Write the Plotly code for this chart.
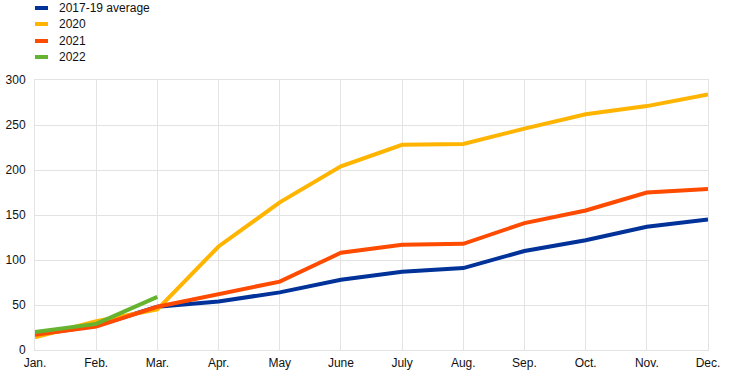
import plotly.graph_objects as go

months = ["Jan.", "Feb.", "Mar.", "Apr.", "May", "June", "July", "Aug.", "Sep.", "Oct.", "Nov.", "Dec."]
avg_2017_19 = [17, 27, 48, 54, 64, 78, 87, 91, 110, 122, 137, 145]
y2020 = [14, 32, 45, 115, 164, 204, 228, 229, 246, 262, 271, 284]
y2021 = [17, 26, 48, 62, 76, 108, 117, 118, 141, 155, 175, 179]
y2022 = [20, 29, 59]

series = [
    ("2017-19 average", avg_2017_19, "#003299"),
    ("2020", y2020, "#FFB400"),
    ("2021", y2021, "#FF4B00"),
    ("2022", y2022, "#65B32E"),
]

W, H = 744, 377
L, R, T, B = 35, 36, 80, 27
pw, ph = W - L - R, H - T - B

def px_x(p):
    return (p - L) / pw

def px_y(p):
    return (H - B - p) / ph

fig = go.Figure()
shapes, annotations = [], []
legend_y = [8, 24, 41, 57]
for (name, vals, color), ly in zip(series, legend_y):
    fig.add_trace(go.Scatter(
        x=months[:len(vals)], y=vals, name=name, mode="lines",
        line=dict(color=color, width=4), showlegend=False,
    ))
    shapes.append(dict(type="line", xref="paper", yref="paper",
                       x0=px_x(35), x1=px_x(48), y0=px_y(ly), y1=px_y(ly),
                       line=dict(color=color, width=4)))
    annotations.append(dict(xref="paper", yref="paper", x=px_x(57), y=px_y(ly),
                            xanchor="left", yanchor="middle", text=name,
                            showarrow=False, font=dict(size=12, color="#111")))

fig.update_layout(
    width=W, height=H,
    margin=dict(l=L, r=R, t=T, b=B, autoexpand=False),
    paper_bgcolor="white", plot_bgcolor="white",
    font=dict(family="Liberation Sans, Arial, sans-serif", size=12, color="#111"),
    showlegend=False,
    shapes=shapes, annotations=annotations,
    xaxis=dict(type="category", categoryorder="array", categoryarray=months,
               range=[0, 11], showgrid=True, gridcolor="#e3e3e3", gridwidth=1,
               showline=True, linecolor="#e3e3e3", mirror=True,
               ticks="", tickfont=dict(size=12), zeroline=False,
               ticklabelstandoff=2, automargin=False),
    yaxis=dict(range=[0, 300], dtick=50, showgrid=True, gridcolor="#e3e3e3",
               gridwidth=1, showline=True, linecolor="#e3e3e3", mirror=True,
               ticks="", tickfont=dict(size=12), zeroline=False,
               ticklabelstandoff=6, automargin=False),
)

fig.write_html("out.html", config={"displayModeBar": False},
               post_script="document.body.style.margin='0px';")
